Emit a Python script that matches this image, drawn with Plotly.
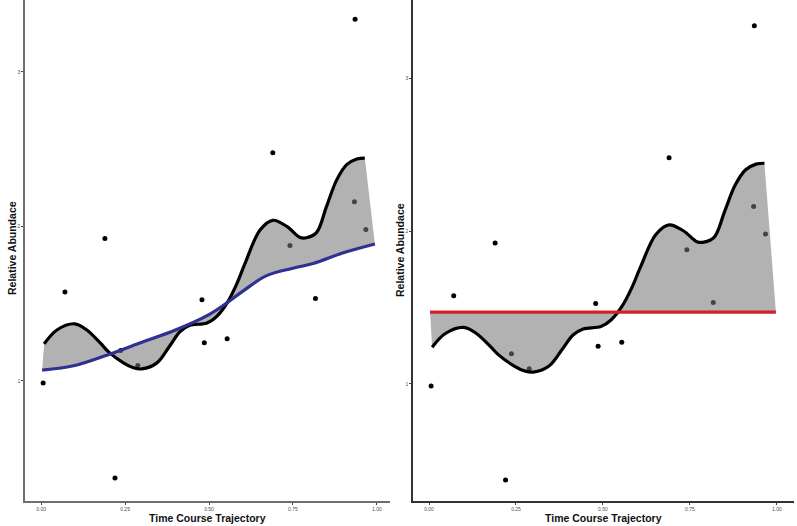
import plotly.graph_objects as go

# Observed data points (time, relative abundance)
pt_x = [0.006, 0.071, 0.19, 0.22, 0.237, 0.288, 0.479, 0.486, 0.554, 0.69, 0.741, 0.817, 0.933, 0.935, 0.967]
pt_y = [0.987, 1.576, 1.922, 0.372, 1.198, 1.10, 1.526, 1.247, 1.273, 2.478, 1.877, 1.533, 2.16, 3.342, 1.98]

# Smoothed trajectory (black curve)
curve_x = [0.009, 0.047, 0.10, 0.136, 0.176, 0.20, 0.245, 0.275, 0.30, 0.345, 0.384, 0.414, 0.443,
           0.494, 0.524, 0.554, 0.583, 0.607, 0.652, 0.69, 0.732, 0.77, 0.79, 0.82, 0.85, 0.88,
           0.91, 0.94, 0.964]
curve_y = [1.24, 1.33, 1.37, 1.33, 1.246, 1.19, 1.117, 1.085, 1.078, 1.117, 1.23, 1.32, 1.36,
           1.375, 1.42, 1.505, 1.63, 1.76, 1.977, 2.04, 2.0, 1.93, 1.927, 1.96, 2.13, 2.30,
           2.40, 2.437, 2.443]

# Reference trend (blue, left panel)
trend_x = [0.003, 0.10, 0.20, 0.30, 0.40, 0.50, 0.553, 0.60, 0.67, 0.75, 0.81, 0.90, 0.994]
trend_y = [1.07, 1.10, 1.17, 1.25, 1.33, 1.43, 1.505, 1.58, 1.68, 1.73, 1.76, 1.83, 1.887]

# Flat reference (red, right panel)
flat_x = [0.003, 0.997]
flat_y = [1.47, 1.47]

x_ticks = [0, 0.25, 0.5, 0.75, 1.0]
x_tick_text = ["0.00", "0.25", "0.50", "0.75", "1.00"]
y_ticks = [1, 2, 3]
y_tick_text = ["1", "2", "3"]

W, H = 797, 526
FILL = "rgba(120,120,120,0.57)"
FONT = "Liberation Sans, Arial, Helvetica, sans-serif"

fig = go.Figure()

for xa, ya, ref_x, ref_y, ref_col in [("x", "y", trend_x, trend_y, "#2E3192"),
                                       ("x2", "y2", flat_x, flat_y, "#D0202A")]:
    fig.add_trace(go.Scatter(x=pt_x, y=pt_y, mode="markers", xaxis=xa, yaxis=ya,
                             marker=dict(color="black", size=5), showlegend=False))
    fig.add_trace(go.Scatter(x=curve_x, y=curve_y, mode="lines", xaxis=xa, yaxis=ya,
                             line=dict(color="black", width=3.2, shape="spline", smoothing=1.0),
                             showlegend=False))
    fig.add_trace(go.Scatter(x=ref_x, y=ref_y, mode="lines", xaxis=xa, yaxis=ya,
                             line=dict(color=ref_col, width=3.2, shape="spline", smoothing=1.0),
                             fill="tonexty", fillcolor=FILL, showlegend=False))

ydom = [25 / H, 1.0]
axis_common = dict(showgrid=False, zeroline=False, showline=True, ticks="outside",
                   ticklen=2, tickwidth=0.8, tickcolor="#444",
                   tickfont=dict(size=5, color="#4d4d4d", family=FONT))

fig.update_layout(
    width=W, height=H, margin=dict(l=0, r=0, t=0, b=0),
    paper_bgcolor="white", plot_bgcolor="white", showlegend=False,
    xaxis=dict(domain=[25 / W, 390 / W], range=[-0.048, 1.039], anchor="y",
               tickvals=x_ticks, ticktext=x_tick_text, linecolor="#6e6e6e", linewidth=1.6,
               **axis_common),
    yaxis=dict(domain=ydom, range=[0.223, 3.466], anchor="x",
               tickvals=y_ticks, ticktext=y_tick_text, linecolor="#6e6e6e", linewidth=1.6,
               **axis_common),
    xaxis2=dict(domain=[413 / W, 794 / W], range=[-0.046, 1.049], anchor="y2",
                tickvals=x_ticks, ticktext=x_tick_text, linecolor="#333", linewidth=1.6,
                **axis_common),
    yaxis2=dict(domain=ydom, range=[0.235, 3.51], anchor="x2",
                tickvals=y_ticks, ticktext=y_tick_text, linecolor="#333", linewidth=1.6,
                **axis_common),
)

title_font = dict(family=FONT, size=10.5, color="#111")
annos = [
    dict(text="<b>Time Course Trajectory</b>", xref="x domain", yref="paper", x=0.5, y=8 / H,
         xanchor="center", yanchor="middle", showarrow=False, font=title_font),
    dict(text="<b>Time Course Trajectory</b>", xref="x2 domain", yref="paper", x=0.5, y=8 / H,
         xanchor="center", yanchor="middle", showarrow=False, font=title_font),
    dict(text="<b>Relative Abundace</b>", xref="paper", yref="paper", x=12 / W, y=(H - 248) / H,
         xanchor="center", yanchor="middle", textangle=-90, showarrow=False, font=title_font),
    dict(text="<b>Relative Abundace</b>", xref="paper", yref="paper", x=400 / W, y=(H - 250) / H,
         xanchor="center", yanchor="middle", textangle=-90, showarrow=False, font=title_font),
]
fig.update_layout(annotations=annos)

fig.write_html("out.html", config={"displayModeBar": False},
               post_script="document.body.style.margin='0';document.body.style.overflow='hidden';")
